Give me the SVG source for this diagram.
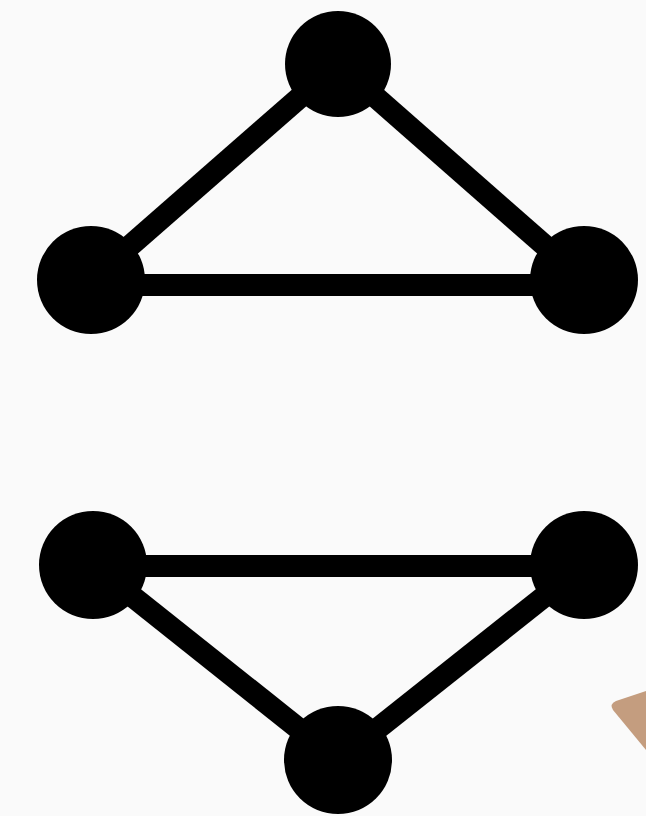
<svg xmlns="http://www.w3.org/2000/svg" width="646" height="816" viewBox="0 0 646 816">
<style>
.e{stroke:#000;stroke-width:22;fill:none}
.n{fill:#000}
</style>
<rect width="646" height="816" fill="#fafafa"/>
<g id="connectors">
<line class="e" x1="91" y1="280" x2="338" y2="64"/>
<line class="e" x1="338" y1="64" x2="584" y2="280"/>
<line class="e" x1="91" y1="285" x2="584" y2="285"/>
<line class="e" x1="93" y1="566" x2="584" y2="566"/>
<line class="e" x1="93" y1="565" x2="338" y2="760"/>
<line class="e" x1="338" y1="760" x2="584" y2="565"/>
</g>
<g id="n1"><circle class="n" cx="338" cy="64" r="53"/></g>
<g id="n2"><circle class="n" cx="91" cy="280" r="54"/></g>
<g id="n3"><circle class="n" cx="584" cy="280" r="54"/></g>
<g id="n4"><circle class="n" cx="93" cy="565" r="54"/></g>
<g id="n5"><circle class="n" cx="584" cy="565" r="54"/></g>
<g id="n6"><circle class="n" cx="338" cy="760" r="54"/></g>
<path d="M646 691 L616 701 Q609 704 613 710 L646 750 Z" fill="#c49d7f"/>
</svg>
